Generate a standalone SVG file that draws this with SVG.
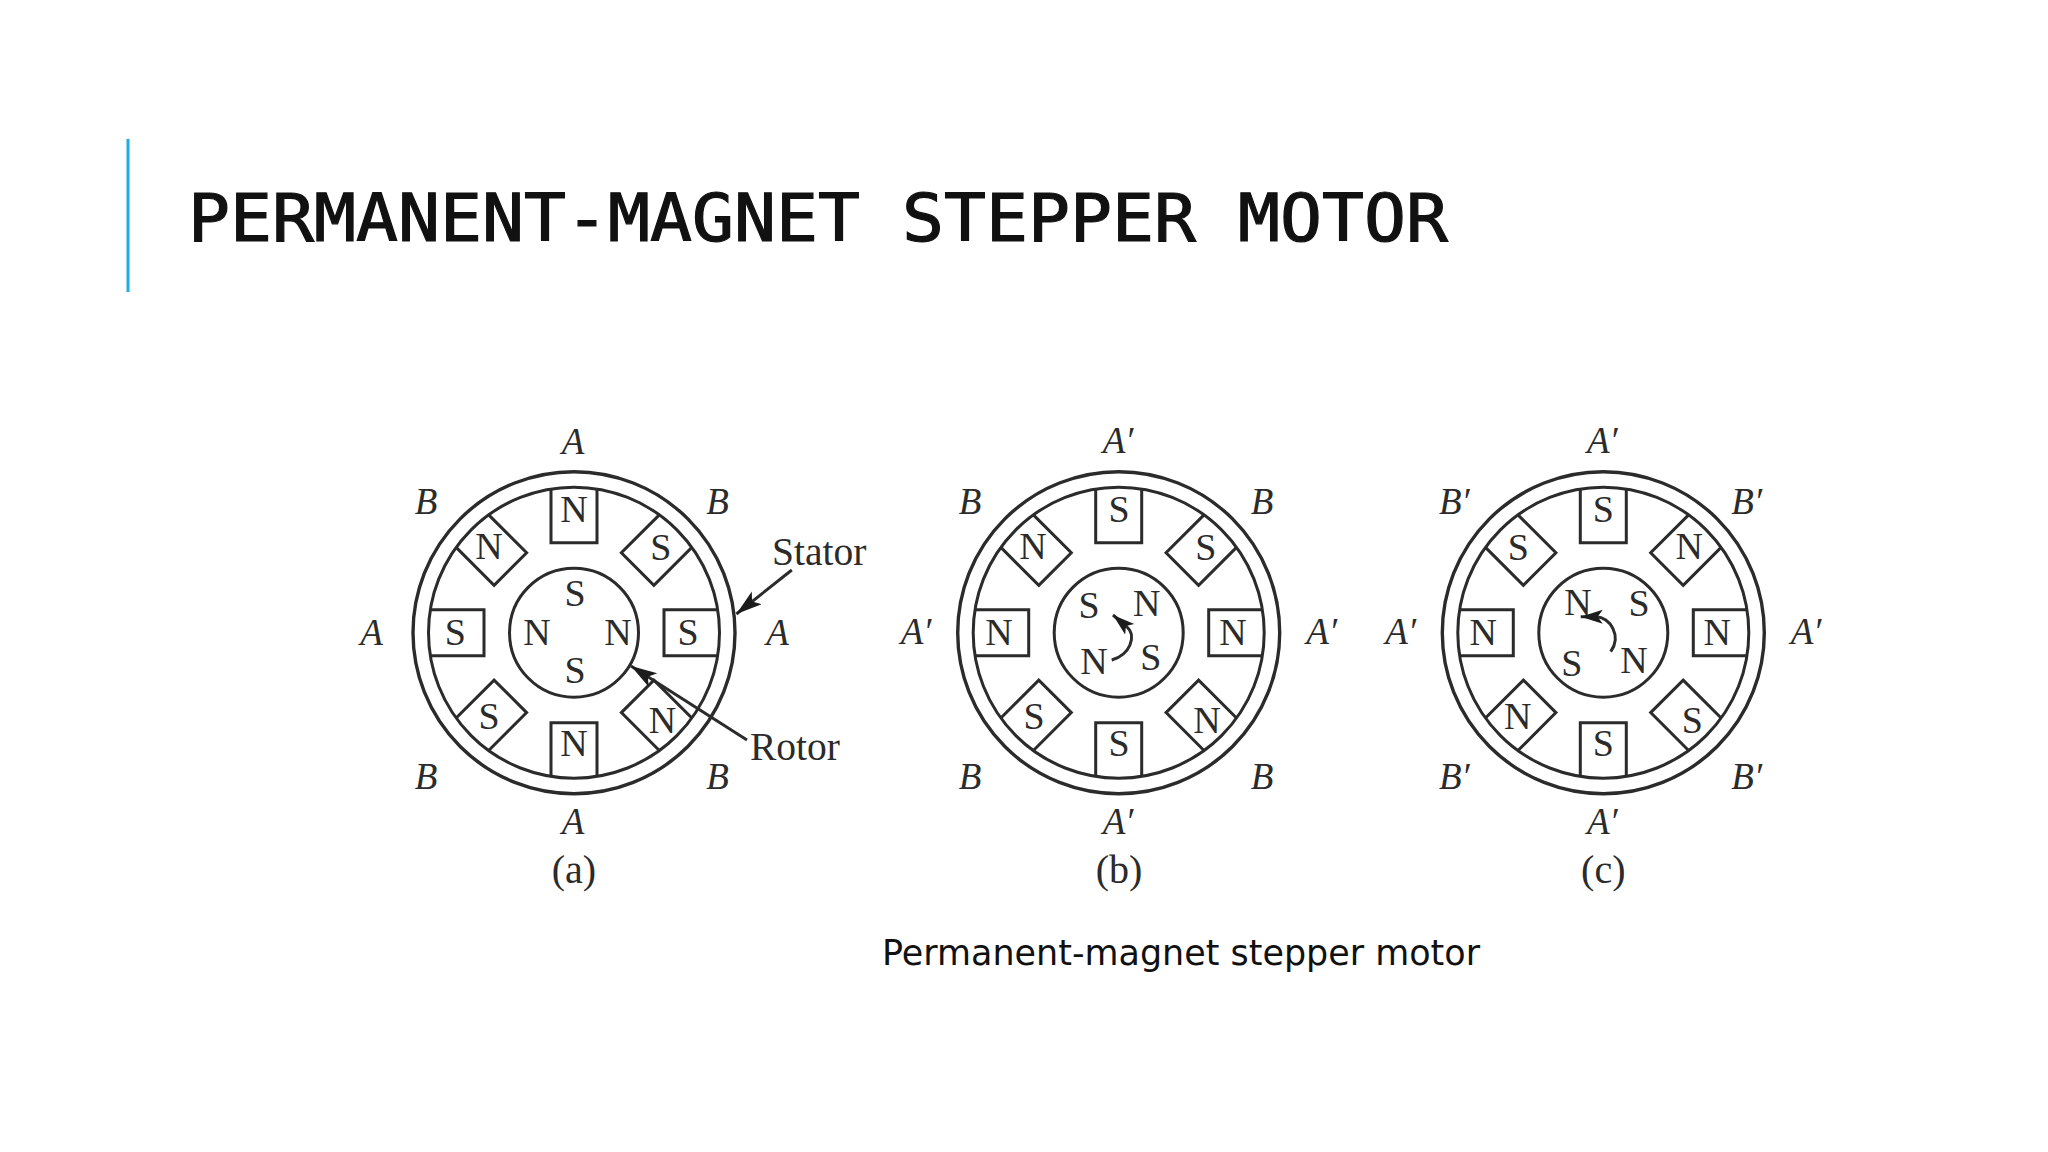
<svg xmlns="http://www.w3.org/2000/svg" xmlns:xlink="http://www.w3.org/1999/xlink" width="2048" height="1152" viewBox="0 0 2048 1152">
<style>
.ln{fill:none;stroke:#2b2b2b;stroke-width:3}
.ring{fill:none;stroke:#2b2b2b;stroke-width:3.400}
text{fill:#2b2b2b;font-family:"Liberation Serif","Times New Roman",serif;text-anchor:middle}
.p{font-size:38px}
.i{font-size:37px;font-style:italic}
.l{font-size:39.500px;text-anchor:start}
.c{font-size:40px}
.title{fill:#111;stroke:#111;stroke-width:1.200;font-family:"DejaVu Sans Mono",monospace;font-size:66px;text-anchor:start}
.cap{fill:#111;font-family:"DejaVu Sans",sans-serif;font-size:36px;text-anchor:start}
</style>
<defs>
<path id="pole" class="ln" d="M-23 -144V-90H23V-144"/>
<g id="frame">
<circle class="ring" r="161"/><circle class="ln" r="145.5"/><circle class="ln" r="64.5"/>
<use xlink:href="#pole" href="#pole"/>
<use xlink:href="#pole" href="#pole" transform="rotate(45)"/>
<use xlink:href="#pole" href="#pole" transform="rotate(90)"/>
<use xlink:href="#pole" href="#pole" transform="rotate(135)"/>
<use xlink:href="#pole" href="#pole" transform="rotate(180)"/>
<use xlink:href="#pole" href="#pole" transform="rotate(225)"/>
<use xlink:href="#pole" href="#pole" transform="rotate(270)"/>
<use xlink:href="#pole" href="#pole" transform="rotate(315)"/>
</g>
<marker id="big" markerUnits="userSpaceOnUse" markerWidth="28" markerHeight="18" refX="26" refY="8" orient="auto"><path d="M0 0L26 8L0 16L6 8Z" fill="#1c1c1c"/></marker>
<marker id="small" markerUnits="userSpaceOnUse" markerWidth="24" markerHeight="16" refX="22" refY="7" orient="auto"><path d="M0 0L22 7L0 14L5 7Z" fill="#1c1c1c"/></marker>
</defs>
<rect width="2048" height="1152" fill="#fff"/>
<rect id="accent-bar" x="126.500" y="139" width="3" height="153" fill="#1cade4"/>
<text id="title" class="title" x="188" y="241" textLength="1260" lengthAdjust="spacingAndGlyphs">PERMANENT-MAGNET STEPPER MOTOR</text>

<g id="motor-a">
<use xlink:href="#frame" href="#frame" transform="translate(574 632.700)"/>
<g class="i"><text x="573" y="454">A</text><text x="426" y="514">B</text><text x="717.500" y="514">B</text><text x="371.500" y="645">A</text><text x="777.500" y="645">A</text><text x="426" y="789">B</text><text x="717.500" y="789">B</text><text x="573" y="834">A</text></g>
<g class="p"><text x="574" y="522">N</text><text x="489" y="559">N</text><text x="660.700" y="560">S</text><text x="455.400" y="645">S</text><text x="688" y="645">S</text><text x="489" y="729">S</text><text x="662.500" y="733">N</text><text x="574" y="756">N</text>
<text x="575" y="606">S</text><text x="537" y="645">N</text><text x="618" y="645">N</text><text x="575" y="683">S</text></g>
<text class="c" x="574" y="883">(a)</text>
</g>
<g id="label-stator"><text class="l" x="772" y="565">Stator</text></g>
<g id="label-rotor"><text class="l" x="750" y="760">Rotor</text></g>

<g id="motor-b">
<use xlink:href="#frame" href="#frame" transform="translate(1118.700 632.700)"/>
<g class="i"><text x="1118" y="453">A′</text><text x="970" y="514">B</text><text x="1262" y="514">B</text><text x="916" y="644">A′</text><text x="1321.700" y="644">A′</text><text x="970" y="789">B</text><text x="1262" y="789">B</text><text x="1118" y="834">A′</text></g>
<g class="p"><text x="1119" y="522">S</text><text x="1033" y="559">N</text><text x="1205.700" y="560">S</text><text x="999" y="645">N</text><text x="1233" y="645">N</text><text x="1034" y="729">S</text><text x="1207" y="733">N</text><text x="1119" y="756">S</text>
<text x="1089" y="618">S</text><text x="1146.700" y="616">N</text><text x="1094" y="674">N</text><text x="1150.700" y="670">S</text></g>
<text class="c" x="1119" y="883">(b)</text>
</g>

<g id="motor-c">
<use xlink:href="#frame" href="#frame" transform="translate(1603.300 632.700)"/>
<g class="i"><text x="1602.300" y="453">A′</text><text x="1454.300" y="514">B′</text><text x="1746.700" y="514">B′</text><text x="1400.700" y="644">A′</text><text x="1806" y="644">A′</text><text x="1454.300" y="789">B′</text><text x="1746.700" y="789">B′</text><text x="1602.300" y="834">A′</text></g>
<g class="p"><text x="1603.300" y="522">S</text><text x="1518.300" y="560">S</text><text x="1689.300" y="559">N</text><text x="1483.300" y="645">N</text><text x="1717.300" y="645">N</text><text x="1517.700" y="729">N</text><text x="1692.300" y="733">S</text><text x="1603.300" y="756">S</text>
<text x="1578" y="615">N</text><text x="1639" y="616">S</text><text x="1571.700" y="676">S</text><text x="1634" y="673">N</text></g>
<text class="c" x="1603.300" y="883">(c)</text>
</g>

<g id="connectors">
<path class="ln" d="M791.800 570L736.400 614" marker-end="url(#big)"/>
<path class="ln" d="M747 740L631 666" marker-end="url(#big)"/>
<path class="ln" d="M1111.700 660C1130 655 1137 636 1127 627L1113 615" marker-end="url(#small)"/>
<path class="ln" d="M1610.700 651.700C1622 636 1610 617 1596 616.700L1580.700 616.700" marker-end="url(#small)"/>
</g>
<text id="caption" class="cap" x="882" y="965" textLength="598" lengthAdjust="spacingAndGlyphs">Permanent-magnet stepper motor</text>
</svg>
